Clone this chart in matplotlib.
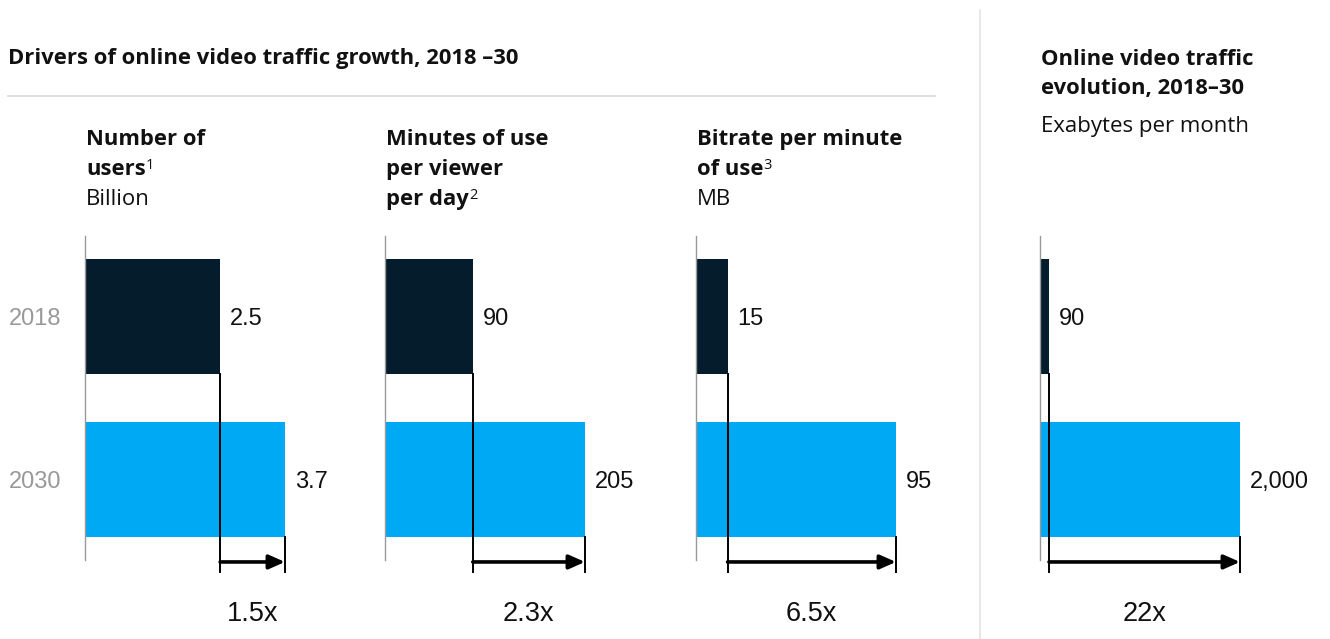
import matplotlib
matplotlib.use("Agg")
import matplotlib.pyplot as plt

# ---- data ----
years = ["2018", "2030"]
panel_titles = [["Number of", "users"], ["Minutes of use", "per viewer", "per day"],
                ["Bitrate per minute", "of use"], ["Online video traffic", "evolution, 2018\u201330"]]
panel_notes = ["1", "2", "3", ""]
panel_units = ["Billion", "", "MB", "Exabytes per month"]
values_2018 = [2.5, 90, 15, 90]
values_2030 = [3.7, 205, 95, 2000]
value_labels_2018 = ["2.5", "90", "15", "90"]
value_labels_2030 = ["3.7", "205", "95", "2,000"]
growth_labels = ["1.5x", "2.3x", "6.5x", "22x"]
main_title = "Drivers of online video traffic growth, 2018 \u201330"

DARK = "#051C2C"
BLUE = "#00A9F4"
GRAY = "#999999"
INK = "#111111"
W, H = 1330, 639
HEAD = dict(family=["Open Sans", "DejaVu Sans"], fontweight="bold")
SUB = dict(family=["Open Sans", "DejaVu Sans"])
NUM = dict(family=["Liberation Sans", "DejaVu Sans"])
HSIZE = 15.8
SSIZE = 16

fig = plt.figure(figsize=(W / 100, H / 100), dpi=100)

def fx(px):
    return px / W

def fy(py):
    return 1 - py / H

# title, rule, separator
fig.text(fx(8), fy(64), main_title, fontsize=HSIZE, va="baseline", ha="left", color=INK, **HEAD)
fig.add_artist(plt.Line2D([fx(8), fx(935)], [fy(96), fy(96)], color="#D9D9D9", lw=1.2))
fig.add_artist(plt.Line2D([fx(980), fx(980)], [fy(10), fy(639)], color="#E3E3E3", lw=1.2))

panel_x = [85, 385, 696, 1040]
ax_top, ax_bot, ax_w = 236, 560, 200
ypos = [0, 1]

for i in range(4):
    ax = fig.add_axes([fx(panel_x[i]), fy(ax_bot), fx(ax_w), (ax_bot - ax_top) / H])
    vmax = max(values_2018[i], values_2030[i])
    ax.set_xlim(0, vmax)
    ax.set_ylim(1.494, -0.494)
    ax.barh(ypos[0], values_2018[i], height=0.705, color=DARK, clip_on=False)
    ax.barh(ypos[1], values_2030[i], height=0.705, color=BLUE, clip_on=False)
    for sp in ["top", "right", "bottom"]:
        ax.spines[sp].set_visible(False)
    ax.spines["left"].set_color(GRAY)
    ax.spines["left"].set_linewidth(1)
    ax.set_xticks([])
    ax.set_yticks([])
    ax.patch.set_alpha(0)

    # value labels
    ax.annotate(value_labels_2018[i], (values_2018[i], ypos[0]), xytext=(7, 0), textcoords="offset points",
                va="center_baseline", ha="left", fontsize=17, color=INK, annotation_clip=False, **NUM)
    ax.annotate(value_labels_2030[i], (values_2030[i], ypos[1]), xytext=(7, 0), textcoords="offset points",
                va="center_baseline", ha="left", fontsize=17, color=INK, annotation_clip=False, **NUM)

    # growth markers
    x0, x1 = values_2018[i], values_2030[i]
    ax.plot([x0, x0], [ypos[0] + 0.3525, 1.568], color="black", lw=1.4, clip_on=False)
    ax.plot([x1, x1], [ypos[1] + 0.3525, 1.568], color="black", lw=1.4, clip_on=False)
    ax.annotate("", xy=(x1, 1.506), xytext=(x0, 1.506), annotation_clip=False,
                arrowprops=dict(arrowstyle="-|>,head_length=0.95,head_width=0.42", color="black", lw=2.6,
                                shrinkA=0, shrinkB=0, mutation_scale=10))
    ax.text((x0 + x1) / 2, 1.805, growth_labels[i], ha="center", va="center_baseline", fontsize=19.5,
            color=INK, clip_on=False, **NUM)

    if i == 0:
        for yy, lab in zip(ypos, years):
            ax.annotate(lab, (0, yy), xytext=(-17, 0), textcoords="offset points", ha="right",
                        va="center_baseline", fontsize=17, color=GRAY, annotation_clip=False, **NUM)

# panel headers
renderer = fig.canvas.get_renderer()
baselines = [145, 175, 205]
for i in range(3):
    xl = fx(panel_x[i] + 1)
    lines = panel_titles[i]
    last = None
    for k, line in enumerate(lines):
        last = fig.text(xl, fy(baselines[k]), line, fontsize=HSIZE, va="baseline", ha="left",
                        color=INK, **HEAD)
    if panel_notes[i]:
        bb = last.get_window_extent(renderer)
        fig.text(fx(bb.x1), fy(baselines[len(lines) - 1] - 6), panel_notes[i], fontsize=10.5,
                 va="baseline", ha="left", color=INK, **SUB)
    if panel_units[i]:
        fig.text(xl, fy(baselines[len(lines)]), panel_units[i], fontsize=SSIZE, va="baseline", ha="left",
                 color=INK, **SUB)

# right panel header
xr = fx(1041)
fig.text(xr, fy(65), panel_titles[3][0], fontsize=HSIZE, va="baseline", ha="left", color=INK, **HEAD)
fig.text(xr, fy(94), panel_titles[3][1], fontsize=HSIZE, va="baseline", ha="left", color=INK, **HEAD)
fig.text(xr, fy(132), panel_units[3], fontsize=SSIZE, va="baseline", ha="left", color=INK, **SUB)

fig.savefig("out.png", dpi=100, facecolor="white")
